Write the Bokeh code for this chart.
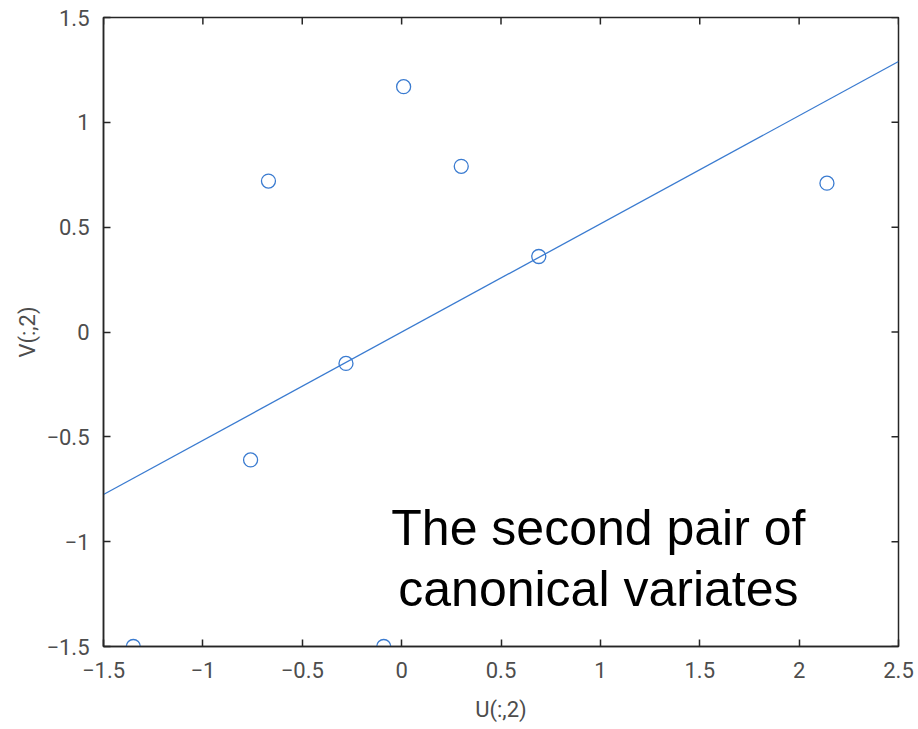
from bokeh.plotting import figure
from bokeh.models import Range1d, Label, FixedTicker
from bokeh.embed import file_html
from bokeh.resources import INLINE

# Data
u2 = [-0.67, 0.01, 0.30, 2.14, 0.69, -0.28, -0.76, -1.35, -0.09]
v2 = [0.72, 1.17, 0.79, 0.71, 0.36, -0.15, -0.61, -1.50, -1.50]
fit_x = [-1.5, 2.5]
fit_y = [-0.775, 1.29]
x_ticks = [-1.5, -1, -0.5, 0, 0.5, 1, 1.5, 2, 2.5]
y_ticks = [-1.5, -1, -0.5, 0, 0.5, 1, 1.5]
annotation = ["The second pair of", "canonical variates"]

BLUE = "#3a7bd0"
AX = "#262626"
TXT = "#4d4d4d"

XMIN, XMAX = -1.5, 2.5
YMIN, YMAX = -1.5, 1.5

p = figure(width=918, height=729, output_backend="svg", toolbar_location=None,
           x_range=Range1d(XMIN, XMAX), y_range=Range1d(YMIN, YMAX),
           x_axis_label="U(:,2)", y_axis_label="V(:,2)",
           min_border_left=103, min_border_right=20, min_border_top=17, min_border_bottom=83)
p.outline_line_color = AX
p.outline_line_width = 1.5
p.xgrid.visible = False
p.ygrid.visible = False
p.background_fill_color = "white"
p.border_fill_color = "white"

def style(ax, ticks):
    ax.ticker = FixedTicker(ticks=ticks)
    ax.axis_line_color = AX
    ax.axis_line_width = 1.5
    ax.major_tick_line_color = AX
    ax.major_tick_line_width = 1.5
    ax.major_tick_in = 7
    ax.major_tick_out = 0
    ax.minor_tick_line_color = None
    ax.major_label_text_font = "Roboto"
    ax.major_label_text_font_size = "22px"
    ax.major_label_text_color = TXT
    ax.axis_label_text_font = "Roboto"
    ax.axis_label_text_font_size = "22px"
    ax.axis_label_text_font_style = "normal"
    ax.axis_label_text_color = TXT

xa = p.xaxis[0]
ya = p.yaxis[0]
style(xa, x_ticks)
style(ya, y_ticks)
xa.major_label_standoff = 15
xa.axis_label_standoff = 16
ya.major_label_standoff = 14
ya.axis_label_standoff = 3
ya.major_label_orientation = "horizontal"

# inward ticks on the top and right edges of the box
dx = 7 / 198.75
dy = 7 / 209.7
p.segment(x0=x_ticks, y0=[YMAX] * len(x_ticks), x1=x_ticks, y1=[YMAX - dy] * len(x_ticks),
          line_color=AX, line_width=1.5)
p.segment(x0=[XMAX] * len(y_ticks), y0=y_ticks, x1=[XMAX - dx] * len(y_ticks), y1=y_ticks,
          line_color=AX, line_width=1.5)

p.line(fit_x, fit_y, line_color=BLUE, line_width=1.3)
p.scatter(u2, v2, marker="circle", size=14, fill_color=None, line_color=BLUE, line_width=1.3)

p.add_layout(Label(x=0.99, y=-0.937, text=annotation[0], text_align="center", text_baseline="alphabetic",
                   text_font="Liberation Sans", text_font_size="50px", text_color="black"))
p.add_layout(Label(x=0.99, y=-1.228, text=annotation[1], text_align="center", text_baseline="alphabetic",
                   text_font="Liberation Sans", text_font_size="50px", text_color="black"))

open("out.html", "w").write(file_html(p, INLINE))
